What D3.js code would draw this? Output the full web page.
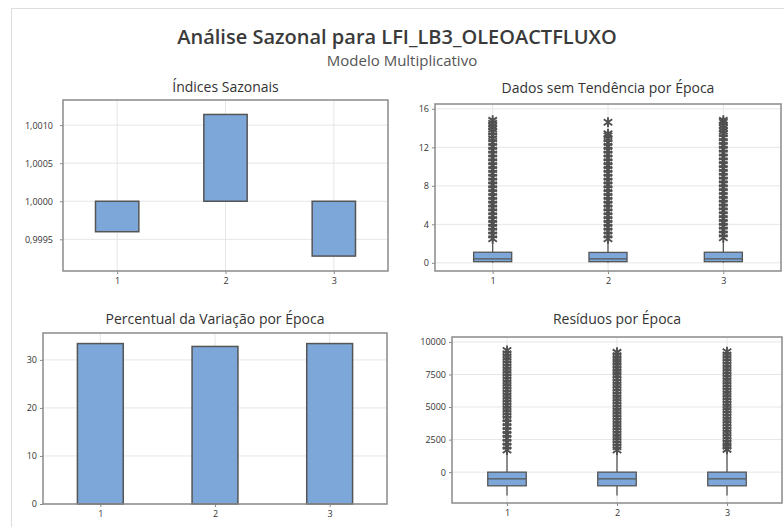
<!DOCTYPE html>
<html lang="pt">
<head>
<meta charset="utf-8">
<title>Análise Sazonal para LFI_LB3_OLEOACTFLUXO</title>
<script src="https://d3js.org/d3.v7.min.js"></script>
<style>
  body { margin: 0; background: #fff; }
  svg text { font-family: "Open Sans", "Noto Sans", sans-serif; fill: #333; }
</style>
</head>
<body>
<svg id="chart" width="784" height="527"></svg>
<script>
// ---- data ----
var epocas = [1, 2, 3];

// Índices Sazonais (bars drawn from 1,0000)
var indicesSazonais = [0.99960, 1.00114, 0.99928];
var indicesTicks = [0.9995, 1.0000, 1.0005, 1.0010];

// Percentual da Variação por Época
var percentualVariacao = [33.4, 32.8, 33.4];
var percentualTicks = [0, 10, 20, 30];

// Dados sem Tendência por Época (box stats + outliers)
var detrQ1 = [0.12, 0.12, 0.12];
var detrMediana = [0.42, 0.40, 0.42];
var detrQ3 = [1.10, 1.08, 1.10];
var detrWhiskerLo = [0.0, 0.0, 0.0];
var detrWhiskerHi = [2.2, 2.2, 2.3];
var detrOutliers = [
  [2.5, 2.9, 3.3, 3.7, 4.1, 4.5, 4.9, 5.3, 5.7, 6.1, 6.5, 6.9, 7.3, 7.7, 8.1, 8.5, 8.9, 9.3, 9.7, 10.1, 10.5, 10.9, 11.3, 11.7, 12.1, 12.5, 12.9, 13.2, 13.6, 13.9, 14.2, 14.5, 14.8],
  [2.5, 2.9, 3.3, 3.7, 4.1, 4.5, 4.9, 5.3, 5.7, 6.1, 6.5, 6.9, 7.3, 7.7, 8.1, 8.5, 8.9, 9.3, 9.7, 10.1, 10.5, 10.9, 11.3, 11.7, 12.1, 12.5, 12.9, 13.2, 13.4, 14.6],
  [2.6, 3.0, 3.4, 3.8, 4.2, 4.6, 5.0, 5.4, 5.8, 6.2, 6.6, 7.0, 7.4, 7.8, 8.2, 8.6, 9.0, 9.4, 9.8, 10.2, 10.6, 11.0, 11.4, 11.8, 12.2, 12.6, 13.0, 13.4, 13.7, 14.0, 14.3, 14.6, 14.8]
];
var detrTicks = [0, 4, 8, 12, 16];

// Resíduos por Época (box stats + outliers)
var resQ1 = [-1050, -1050, -1050];
var resMediana = [-520, -520, -520];
var resQ3 = [0, 0, 0];
var resWhiskerLo = [-1800, -1800, -1800];
var resWhiskerHi = [1550, 1550, 1550];
var resOutliers = [
  [1700, 2000, 2300, 2600, 2900, 3200, 3500, 3800, 4100, 4350, 4600, 4850, 5100, 5350, 5600, 5850, 6100, 6350, 6600, 6850, 7100, 7350, 7600, 7850, 8100, 8350, 8600, 8850, 9100, 9350],
  [1700, 1950, 2200, 2450, 2700, 2950, 3200, 3450, 3700, 3950, 4200, 4450, 4700, 4950, 5200, 5450, 5700, 5950, 6200, 6450, 6700, 6950, 7200, 7450, 7700, 7950, 8200, 8450, 8700, 8950, 9200],
  [1750, 2000, 2250, 2500, 2750, 3000, 3250, 3500, 3750, 4000, 4250, 4500, 4750, 5000, 5250, 5500, 5750, 6000, 6250, 6500, 6750, 7000, 7250, 7500, 7750, 8000, 8250, 8500, 8750, 9000, 9250]
];
var resTicks = [0, 2500, 5000, 7500, 10000];

// ---- drawing ----
var BLUE = "#7da7d9", DARK = "#555", FRAME = "#8a8a8a", GRID = "#e6e6e6";
var svg = d3.select("#chart");

svg.append("rect").attr("x", 11.5).attr("y", 8.5).attr("width", 800).attr("height", 600)
  .attr("fill", "none").attr("stroke", "#dedede");

svg.append("text").attr("x", 397).attr("y", 44).attr("text-anchor", "middle")
  .attr("font-size", "20px").attr("font-weight", 600).style("fill", "#3a3a3a")
  .text("Análise Sazonal para LFI_LB3_OLEOACTFLUXO");
svg.append("text").attr("x", 402).attr("y", 66).attr("text-anchor", "middle")
  .attr("font-size", "15px").style("fill", "#555").text("Modelo Multiplicativo");

var commaFmt = function(d) { return d3.format(".4f")(d).replace(".", ","); };

function panel(p) {
  var x = d3.scaleLinear().domain([0.5, 3.5]).range([p.left, p.right]);
  var y = d3.scaleLinear().domain(p.yDomain).range([p.bottom, p.top]);
  var g = svg.append("g");

  g.append("text").attr("x", (p.left + p.right) / 2).attr("y", p.titleY)
    .attr("text-anchor", "middle").attr("font-size", "14px").text(p.title);

  g.selectAll(".gy").data(p.yTicks).join("line")
    .attr("x1", p.left).attr("x2", p.right)
    .attr("y1", function(d) { return y(d); }).attr("y2", function(d) { return y(d); })
    .attr("stroke", GRID);
  g.selectAll(".gx").data(epocas).join("line")
    .attr("x1", function(d) { return x(d); }).attr("x2", function(d) { return x(d); })
    .attr("y1", p.top).attr("y2", p.bottom)
    .attr("stroke", GRID);

  var ya = g.append("g").attr("transform", "translate(" + p.left + ",0)")
    .call(d3.axisLeft(y).tickValues(p.yTicks).tickSize(3).tickPadding(p.pad).tickFormat(p.fmt || null));
  var xa = g.append("g").attr("transform", "translate(0," + p.bottom + ")")
    .call(d3.axisBottom(x).tickValues(epocas).tickSize(3).tickPadding(4).tickFormat(d3.format("d")));
  [ya, xa].forEach(function(a) {
    a.select(".domain").remove();
    a.selectAll("line").attr("stroke", FRAME);
    a.selectAll("text").attr("font-size", "9px").style("fill", "#333");
  });

  var marks = g.append("g");
  g.append("rect").attr("x", p.left).attr("y", p.top)
    .attr("width", p.right - p.left).attr("height", p.bottom - p.top)
    .attr("fill", "none").attr("stroke", FRAME).attr("stroke-width", 1.5);
  return { x: x, y: y, g: marks };
}

// Minitab style asterisk: vertical stroke plus two diagonals
function asterisk(r) {
  var a = r * 0.85, b = r * 0.6;
  return "M0," + (-r) + "L0," + r + "M" + (-a) + "," + (-b) + "L" + a + "," + b +
         "M" + (-a) + "," + b + "L" + a + "," + (-b);
}

function boxes(pp, q1, med, q3, wlo, whi, outs, halfW) {
  var g = pp.g, x = pp.x, y = pp.y;
  var hw = x(1 + halfW) - x(1);
  epocas.forEach(function(e, i) {
    var cx = x(e);
    g.append("line").attr("x1", cx).attr("x2", cx).attr("y1", y(q3[i])).attr("y2", y(whi[i]))
      .attr("stroke", DARK).attr("stroke-width", 1.3);
    g.append("line").attr("x1", cx).attr("x2", cx).attr("y1", y(q1[i])).attr("y2", y(wlo[i]))
      .attr("stroke", DARK).attr("stroke-width", 1.3);
    g.selectAll(".o" + i).data(outs[i]).join("path")
      .attr("d", asterisk(5))
      .attr("transform", function(d) { return "translate(" + cx + "," + y(d) + ")"; })
      .attr("fill", "none").attr("stroke", "#505050").attr("stroke-width", 1.9);
    g.append("rect").attr("x", cx - hw).attr("width", 2 * hw)
      .attr("y", y(q3[i])).attr("height", y(q1[i]) - y(q3[i]))
      .attr("fill", BLUE).attr("stroke", DARK).attr("stroke-width", 1.3);
    g.append("line").attr("x1", cx - hw).attr("x2", cx + hw).attr("y1", y(med[i])).attr("y2", y(med[i]))
      .attr("stroke", DARK).attr("stroke-width", 1.3);
  });
}

// Índices Sazonais
var p1 = panel({ left: 63, right: 388, top: 100, bottom: 271, titleY: 92, pad: 7,
  yDomain: [0.999084, 1.00133], yTicks: indicesTicks, fmt: commaFmt, title: "Índices Sazonais" });
p1.g.selectAll("rect").data(indicesSazonais).join("rect")
  .attr("x", function(d, i) { return p1.x(epocas[i] - 0.2); })
  .attr("width", p1.x(1.2) - p1.x(0.8))
  .attr("y", function(d) { return p1.y(Math.max(d, 1)); })
  .attr("height", function(d) { return Math.abs(p1.y(d) - p1.y(1)); })
  .attr("fill", BLUE).attr("stroke", DARK).attr("stroke-width", 1.5);

// Dados sem Tendência por Época
var p2 = panel({ left: 435, right: 781, top: 104, bottom: 271, titleY: 93, pad: 3,
  yDomain: [-0.85, 16.5], yTicks: detrTicks, title: "Dados sem Tendência por Época" });
boxes(p2, detrQ1, detrMediana, detrQ3, detrWhiskerLo, detrWhiskerHi, detrOutliers, 0.165);

// Percentual da Variação por Época
var p3 = panel({ left: 43, right: 387, top: 333, bottom: 504, titleY: 324, pad: 3,
  yDomain: [0, 35.6], yTicks: percentualTicks, title: "Percentual da Variação por Época" });
p3.g.selectAll("rect").data(percentualVariacao).join("rect")
  .attr("x", function(d, i) { return p3.x(epocas[i] - 0.2); })
  .attr("width", p3.x(1.2) - p3.x(0.8))
  .attr("y", function(d) { return p3.y(d); })
  .attr("height", function(d) { return p3.y(0) - p3.y(d); })
  .attr("fill", BLUE).attr("stroke", DARK).attr("stroke-width", 1.5);

// Resíduos por Época
var p4 = panel({ left: 452, right: 782, top: 337, bottom: 503, titleY: 324, pad: 3,
  yDomain: [-2370, 10380], yTicks: resTicks, fmt: d3.format("d"), title: "Resíduos por Época" });
boxes(p4, resQ1, resMediana, resQ3, resWhiskerLo, resWhiskerHi, resOutliers, 0.175);
</script>
</body>
</html>
